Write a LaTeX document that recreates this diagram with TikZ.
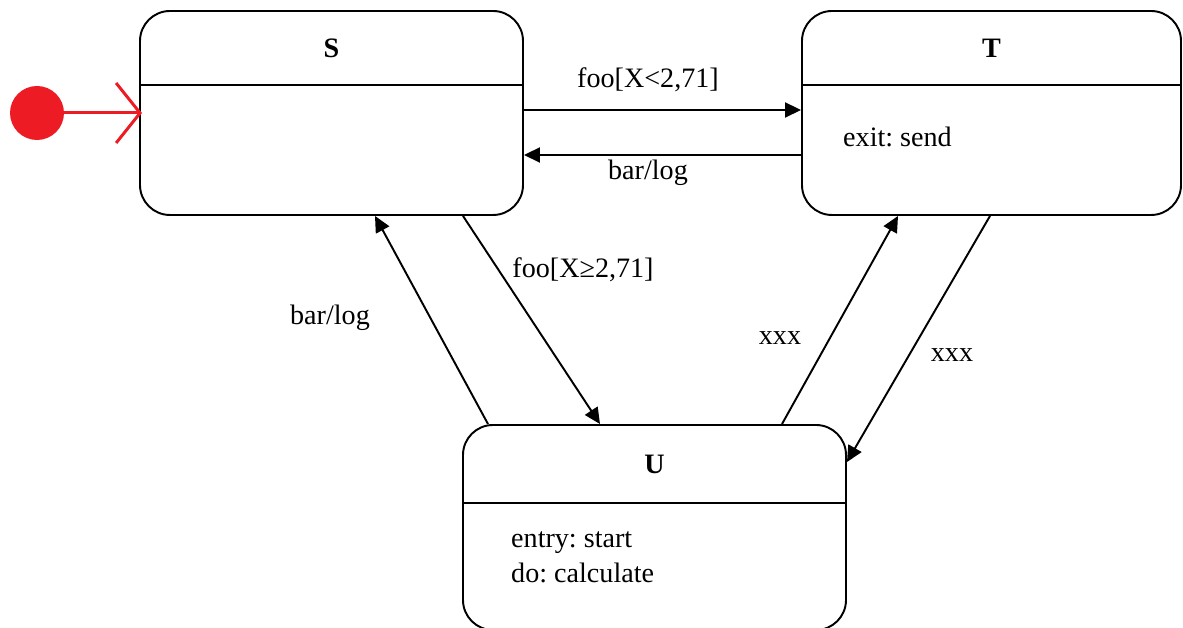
\documentclass[tikz,border=0pt]{standalone}
\usepackage{fontspec}
\setmainfont{Liberation Serif}
\frenchspacing
\usetikzlibrary{arrows.meta,positioning,calc}
\definecolor{initred}{HTML}{ED1C24}
\tikzset{
  state/.style ={draw,rounded corners=6mm,line width=1.1pt,minimum width=7.66cm,minimum height=4.08cm,inner sep=0pt},
  divider/.style={line width=1.1pt},
  trans/.style ={-{Triangle[length=3.2mm,width=3mm]},line width=1.1pt},
  lbl/.style   ={font=\fontsize{16}{20}\selectfont},
  title/.style ={font=\fontsize{16}{20}\selectfont\bfseries},
}
\begin{document}
\begin{tikzpicture}
  \useasboundingbox (0,0) rectangle (23.66,12.56);
  % states
  \node[state] (S) at (6.63,10.30) {};
  \node[state,minimum width=7.58cm] (T) at (19.83,10.30) {};
  \node[state,minimum height=4.1cm] (U) at (13.09,2.01) {};
  % compartments
  \draw[divider] (S.west |- 0,10.86) -- (S.east |- 0,10.86);
  \draw[divider] (T.west |- 0,10.86) -- (T.east |- 0,10.86);
  \draw[divider] (U.west |- 0,2.50) -- (U.east |- 0,2.50);
  % names
  \node[title] (Sname) at (6.63,11.60) {S};
  \node[title] (Tname) at (19.83,11.60) {T};
  \node[title] (Uname) at (13.09,3.28) {U};
  % internal activities
  \node[lbl,anchor=west] (Tact) at (16.74,9.82) {exit: send};
  \node[lbl,anchor=west,align=left] (Uact) at (10.10,1.41) {entry: start\\do: calculate};
  % initial state
  \node[circle,fill=initred,minimum size=1.08cm,inner sep=0pt] (init) at (0.74,10.30) {};
  \draw[initred,line width=1.7pt,-{Straight Barb[length=4.8mm,width=12mm,line width=1.7pt]}] (init) -- ([xshift=0.6mm]S.west);
  % transitions
  \draw[trans] ([yshift=0.6mm]S.east) -- ([yshift=0.6mm]T.west);
  \draw[trans] ([yshift=-8.4mm]T.west) -- ([yshift=-8.4mm]S.east);
  \draw[trans] ([xshift=26.3mm]S.south) -- ([xshift=-10.9mm]U.north);
  \draw[trans] ([xshift=-33.3mm]U.north) -- ([xshift=8.7mm]S.south);
  \draw[trans] ([xshift=25.5mm]U.north) -- ([xshift=-18.7mm]T.south);
  \draw[trans] ([xshift=-0.3mm]T.south) -- ([yshift=13.1mm]U.east);
  % labels
  \node[lbl] (l1) at (12.96,10.96) {foo[X<2,71]};
  \node[lbl] (l2) at (12.96,9.10) {bar/log};
  \node[lbl] (l3) at (11.66,7.16) {foo[X≥2,71]};
  \node[lbl] (l4) at (6.60,6.20) {bar/log};
  \node[lbl] (l5) at (15.60,5.80) {xxx};
  \node[lbl] (l6) at (19.04,5.46) {xxx};
\end{tikzpicture}
\end{document}
